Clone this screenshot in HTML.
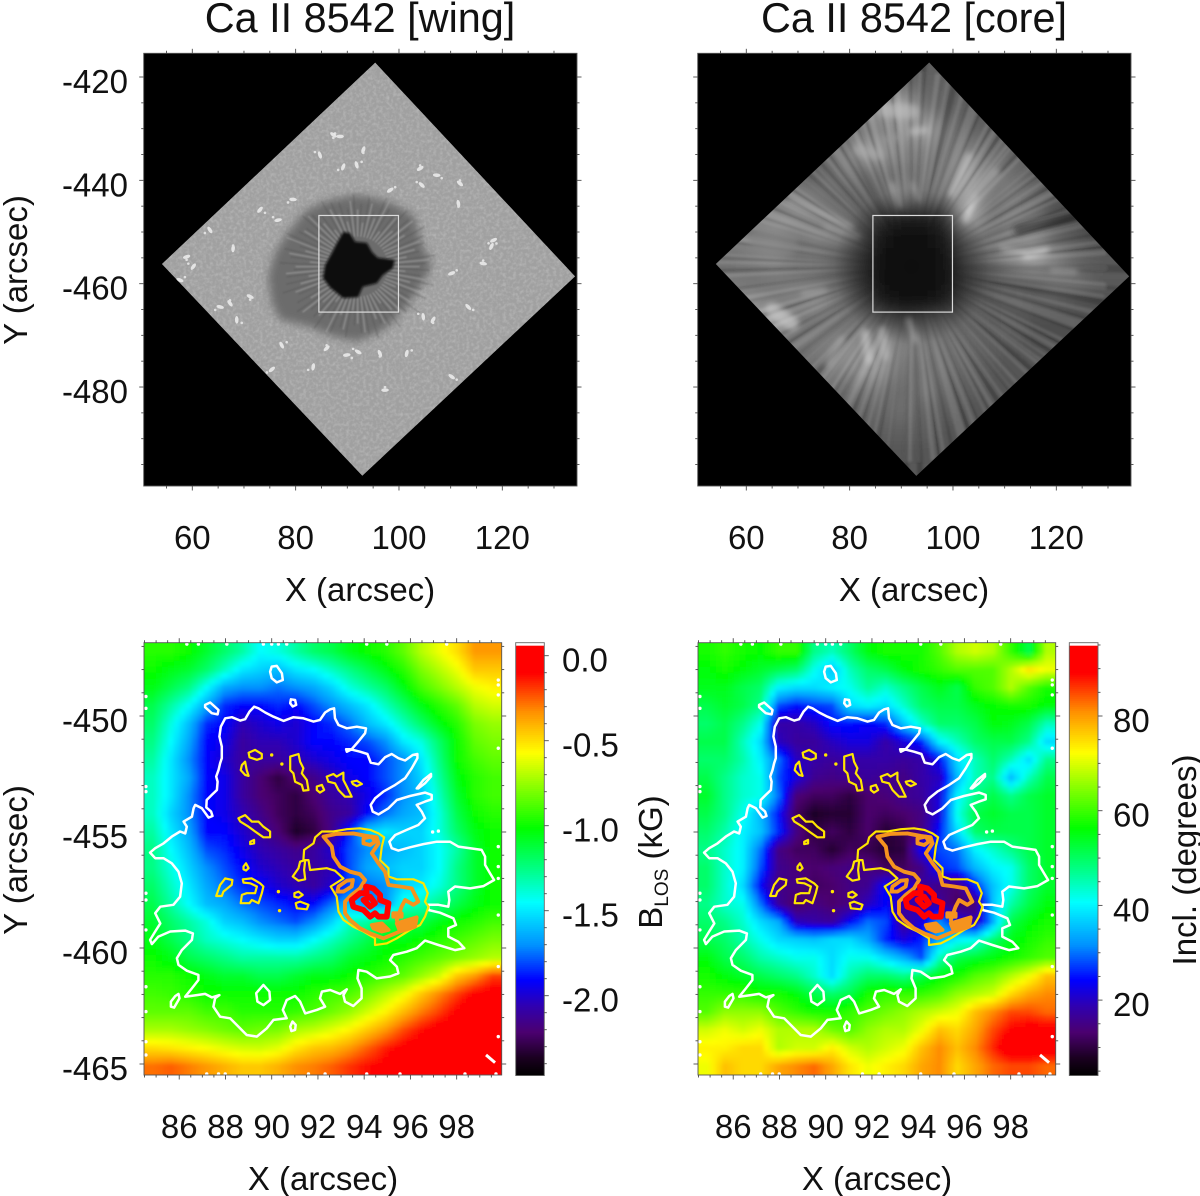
<!DOCTYPE html>
<html lang="en">
<head>
<meta charset="utf-8">
<title>Ca II 8542 sunspot maps</title>
<style>
html,body{margin:0;padding:0;background:#fff;}
svg{display:block;}
text{font-family:"Liberation Sans",sans-serif;fill:#111;}
.tick{font-size:33px;}
.axis{font-size:33px;}
.title{font-size:41.4px;}
</style>
</head>
<body>
<svg id="figure" width="1200" height="1196" viewBox="0 0 1200 1196" xmlns="http://www.w3.org/2000/svg">
<defs>
<filter id="blurHeat" filterUnits="userSpaceOnUse" x="100" y="600" width="1000" height="520"><feGaussianBlur stdDeviation="2.2"/></filter>
<filter id="blurCore" filterUnits="userSpaceOnUse" x="650" y="20" width="540" height="500"><feGaussianBlur stdDeviation="9"/></filter>
<filter id="blurRay" filterUnits="userSpaceOnUse" x="650" y="20" width="540" height="500"><feGaussianBlur stdDeviation="1.2"/></filter>
<filter id="blurStreak" filterUnits="userSpaceOnUse" x="650" y="20" width="540" height="500"><feGaussianBlur stdDeviation="3"/></filter>
<filter id="blurPen" filterUnits="userSpaceOnUse" x="100" y="20" width="540" height="500"><feGaussianBlur stdDeviation="4.5"/></filter>
<filter id="blurUmb" filterUnits="userSpaceOnUse" x="100" y="20" width="540" height="500"><feGaussianBlur stdDeviation="1.4"/></filter>
<filter id="blurFib" filterUnits="userSpaceOnUse" x="100" y="20" width="540" height="500"><feGaussianBlur stdDeviation="0.7"/></filter>
<filter id="grain" filterUnits="userSpaceOnUse" x="143" y="53" width="434" height="433">
<feTurbulence type="fractalNoise" baseFrequency="0.3" numOctaves="2" seed="4"/>
<feColorMatrix type="matrix" values="0 0 0 0 1  0 0 0 0 1  0 0 0 0 1  1.6 0 0 0 -0.62"/>
</filter>
<radialGradient id="coreDark" gradientUnits="userSpaceOnUse" cx="911.6" cy="266.6" r="78">
<stop offset="0" stop-color="#000" stop-opacity="0.35"/>
<stop offset="0.55" stop-color="#000" stop-opacity="0.3"/>
<stop offset="1" stop-color="#000" stop-opacity="0"/>
</radialGradient>
<radialGradient id="rayFade" gradientUnits="userSpaceOnUse" cx="911.6" cy="266.6" r="90">
<stop offset="0" stop-color="#000"/>
<stop offset="0.35" stop-color="#000"/>
<stop offset="1" stop-color="#fff"/>
</radialGradient>
<mask id="rayMask" maskUnits="userSpaceOnUse" x="650" y="20" width="540" height="500">
<rect x="650" y="20" width="540" height="500" fill="url(#rayFade)"/>
</mask>
</defs>
<g id="root"></g>
</svg>
<script>
// ---------- Axis tick labels ----------
var topXTicks = [60, 80, 100, 120];
var topYTicks = [-420, -440, -460, -480];
var botXTicks = [86, 88, 90, 92, 94, 96, 98];
var botYTicks = [-450, -455, -460, -465];
var blosTicks = [0.0, -0.5, -1.0, -1.5, -2.0];
var blosTickLabels = ["0.0", "-0.5", "-1.0", "-1.5", "-2.0"];
var inclTicks = [80, 60, 40, 20];

// ---------- B_LOS map (kG), rows top to bottom ----------
var blosRows = [
[-.95,-.95,-1.0,-1.1,-1.2,-1.3,-1.45,-1.4,-1.3,-1.2,-1.15,-1.05,-1.0,-.95,-.85,-.7,-.6,-.5,-.35,-.35],
[-1.0,-1.05,-1.1,-1.2,-1.35,-1.5,-1.55,-1.6,-1.5,-1.45,-1.35,-1.25,-1.15,-1.05,-.95,-.8,-.7,-.6,-.45,-.45],
[-1.05,-1.15,-1.25,-1.45,-1.65,-1.7,-1.7,-1.75,-1.7,-1.65,-1.55,-1.4,-1.3,-1.2,-1.05,-.9,-.8,-.7,-.6,-.55],
[-1.15,-1.3,-1.45,-1.65,-1.85,-1.9,-1.9,-1.85,-1.9,-1.8,-1.7,-1.6,-1.5,-1.35,-1.2,-1.05,-.95,-.85,-.7,-.65],
[-1.2,-1.4,-1.6,-1.85,-1.9,-2.05,-2.0,-1.95,-2.0,-1.9,-1.85,-1.75,-1.6,-1.5,-1.35,-1.2,-1.05,-.95,-.8,-.75],
[-1.25,-1.45,-1.65,-1.9,-1.95,-2.1,-2.05,-2.05,-2.0,-1.9,-1.9,-1.85,-1.8,-1.7,-1.5,-1.4,-1.2,-1.0,-.85,-.8],
[-1.3,-1.5,-1.7,-1.9,-2.0,-2.1,-2.1,-2.1,-2.05,-2.0,-1.95,-1.9,-1.9,-1.8,-1.7,-1.5,-1.25,-1.0,-.9,-.85],
[-1.35,-1.5,-1.65,-1.9,-1.95,-2.1,-2.2,-2.3,-2.2,-2.15,-2.05,-1.95,-1.9,-1.8,-1.7,-1.55,-1.3,-1.05,-.95,-.9],
[-1.35,-1.5,-1.7,-1.9,-1.95,-2.1,-2.2,-2.25,-2.3,-2.2,-2.1,-2.05,-1.95,-1.85,-1.7,-1.6,-1.35,-1.1,-.95,-.9],
[-1.35,-1.55,-1.7,-1.9,-1.95,-2.05,-2.15,-2.25,-2.3,-2.25,-2.15,-2.1,-1.9,-1.75,-1.65,-1.6,-1.4,-1.15,-1.0,-.95],
[-1.3,-1.5,-1.65,-1.9,-1.9,-2.0,-2.1,-2.2,-2.35,-2.3,-2.15,-1.85,-1.55,-1.5,-1.55,-1.55,-1.4,-1.2,-1.05,-1.0],
[-1.25,-1.45,-1.6,-1.8,-1.85,-1.95,-2.05,-2.1,-2.15,-2.1,-2.0,-1.8,-1.7,-1.65,-1.6,-1.55,-1.45,-1.3,-1.1,-1.0],
[-1.25,-1.4,-1.55,-1.7,-1.8,-1.9,-2.0,-2.05,-2.1,-2.1,-2.05,-1.8,-1.65,-1.6,-1.55,-1.55,-1.45,-1.25,-1.1,-1.0],
[-1.2,-1.35,-1.5,-1.65,-1.75,-1.85,-1.9,-2.0,-2.05,-2.1,-2.0,-1.8,-1.75,-1.7,-1.55,-1.5,-1.4,-1.25,-1.1,-1.0],
[-1.15,-1.3,-1.45,-1.6,-1.65,-1.75,-1.8,-1.85,-1.9,-1.9,-1.75,-1.6,-1.7,-1.7,-1.4,-1.35,-1.25,-1.15,-1.05,-1.0],
[-1.1,-1.2,-1.3,-1.4,-1.55,-1.6,-1.7,-1.75,-1.8,-1.7,-1.55,-1.35,-1.3,-1.15,-1.15,-1.15,-1.05,-1.0,-.95,-.9],
[-1.05,-1.15,-1.25,-1.35,-1.4,-1.45,-1.5,-1.55,-1.55,-1.45,-1.35,-1.25,-1.15,-1.05,-1.05,-1.0,-.95,-.9,-.85,-.8],
[-1.0,-1.05,-1.15,-1.2,-1.25,-1.3,-1.3,-1.3,-1.3,-1.25,-1.2,-1.1,-1.05,-1.0,-.95,-.9,-.85,-.8,-.75,-.7],
[-.95,-.95,-1.0,-1.05,-1.1,-1.1,-1.15,-1.15,-1.1,-1.05,-1.05,-1.0,-.95,-.9,-.85,-.75,-.65,-.45,-.35,-.2],
[-.9,-.92,-.95,-1.0,-1.0,-1.0,-1.0,-1.0,-1.0,-.95,-.9,-.88,-.8,-.7,-.6,-.45,-.32,-.2,-.08,-.05],
[-.85,-.85,-.85,-.9,-.9,-.95,-.95,-.95,-.92,-.88,-.82,-.75,-.65,-.55,-.42,-.3,-.2,-.08,-.03,0],
[-.72,-.72,-.75,-.78,-.82,-.85,-.82,-.8,-.72,-.68,-.62,-.55,-.45,-.35,-.22,-.12,-.05,0,0,0],
[-.5,-.52,-.55,-.58,-.62,-.65,-.66,-.62,-.52,-.45,-.42,-.35,-.25,-.15,-.08,-.03,0,0,0,0],
[-.28,-.25,-.3,-.35,-.4,-.45,-.45,-.4,-.33,-.3,-.25,-.18,-.12,-.08,-.03,0,0,0,0,0]
];

// ---------- Inclination map (degrees), rows top to bottom ----------
var inclRows = [
[58,60,58,57,60,60,48,45,50,56,58,58,58,62,68,70,68,60,52,68],
[56,58,56,54,52,50,42,36,45,50,52,56,58,60,62,62,62,68,75,72],
[55,55,52,50,40,38,38,40,42,47,44,48,52,55,52,60,62,68,62,58],
[52,54,52,48,28,25,27,28,38,40,38,44,50,52,52,55,57,58,58,56],
[50,52,48,42,18,18,20,25,25,24,26,36,44,50,50,52,56,55,52,45],
[52,52,45,38,20,17,17,20,22,22,18,22,26,40,45,50,52,52,48,38],
[50,50,46,40,30,20,18,17,18,18,18,17,18,24,38,45,50,45,38,48],
[52,48,44,42,28,22,16,15,16,17,16,15,18,20,35,45,48,35,45,52],
[54,48,44,42,30,14,12,12,10,13,14,16,17,22,40,48,52,48,52,54],
[52,48,42,35,25,12,8,9,9,13,12,13,15,22,42,52,54,52,52,54],
[50,46,40,36,26,15,10,12,10,13,9,11,15,25,38,50,52,52,52,54],
[48,44,40,30,15,12,12,9,12,11,9,10,24,28,30,40,44,48,52,54],
[50,44,40,28,16,14,13,14,15,15,12,12,15,26,28,35,40,42,50,54],
[50,44,38,24,15,15,12,13,15,16,25,22,18,15,14,26,36,42,50,54],
[48,44,42,30,17,12,15,13,15,20,24,18,18,17,12,14,36,46,52,56],
[50,48,44,38,34,20,18,17,24,30,28,16,22,32,24,18,34,52,56,58],
[52,50,46,42,38,37,36,38,38,34,26,22,26,35,40,42,50,55,58,60],
[56,52,50,46,44,42,42,38,42,42,38,34,28,45,52,54,56,58,60,62],
[58,56,54,52,50,48,44,38,46,50,50,48,52,56,58,62,64,68,72,78],
[60,60,60,58,58,56,52,50,52,58,60,60,60,62,66,68,70,76,80,82],
[62,66,66,66,62,60,58,58,60,62,64,66,68,70,72,78,82,86,86,84],
[70,72,70,72,68,68,68,64,62,66,68,68,72,78,76,80,86,90,92,92],
[74,74,76,76,68,70,70,74,70,68,70,72,78,82,78,82,88,94,94,94],
[72,78,76,76,80,82,84,80,75,72,74,76,80,82,76,80,84,86,86,84]
];

// ---------- Ca II core intensity (0-255), rows top to bottom ----------
var coreRows = [
[90,90,90,90,90,90,90,90,90,90,95,95,90,90,90,90,90,90,90,90],
[110,110,110,110,110,110,110,110,110,110,100,100,90,90,90,90,90,90,90,90],
[150,150,150,150,150,150,150,150,150,170,110,100,90,90,90,90,90,90,90,90],
[110,110,110,110,110,110,110,110,130,150,165,110,100,95,95,95,95,95,95,95],
[110,110,110,110,110,110,110,160,150,130,130,110,130,110,100,100,100,100,100,100],
[90,90,90,90,90,90,110,110,110,115,120,110,160,130,110,90,90,90,90,90],
[130,130,130,130,130,120,100,90,100,130,110,110,170,120,120,110,90,90,90,90],
[130,130,130,130,140,130,120,90,50,40,40,50,170,110,120,110,70,60,60,60],
[130,130,130,150,120,130,120,80,30,25,25,40,100,110,120,130,100,90,70,70],
[110,110,125,130,110,110,90,60,25,25,20,30,80,100,140,170,130,100,90,90],
[120,120,110,120,120,110,90,55,25,20,20,28,60,70,85,90,110,110,90,90],
[140,140,140,120,130,140,110,80,35,25,25,40,80,85,90,85,85,80,80,80],
[170,170,170,170,120,110,110,110,100,80,90,100,100,85,90,80,75,75,75,75],
[110,110,110,110,110,120,130,140,150,130,120,110,105,95,85,80,80,80,80,80],
[110,110,110,110,110,110,130,160,150,115,115,110,100,90,85,85,85,85,85,85],
[115,115,115,115,115,115,115,120,120,105,120,100,95,85,85,85,85,85,85,85],
[100,100,100,100,100,100,100,100,105,110,100,95,85,85,85,85,85,85,85,85],
[95,95,95,95,95,95,95,95,95,95,95,85,85,85,85,85,85,85,85,85],
[85,85,85,85,85,85,85,85,85,85,85,85,85,85,85,85,85,85,85,85],
[90,90,90,90,90,90,90,90,90,90,90,90,90,90,90,90,90,90,90,90]
];

// ---------- Core streaks (arcsec endpoints, gray level, width) ----------
var streakX1 = [88.2,92.1,104.3,103.0,108.2,118.2,114.0,123.7,68.8,68.2,75.3,70.8,83.7,86.9,92.7,75.9,86.9,92.1,81.7,89.5,63.0,123.7];
var streakY1 = [-440.6,-440.6,-443.2,-435.4,-438.6,-453.5,-454.1,-457.7,-467.7,-443.8,-449.0,-461.9,-474.8,-474.1,-470.9,-475.4,-426.4,-430.6,-434.1,-431.6,-451.6,-447.0];
var streakX2 = [89.8,93.4,102.4,99.8,103.7,114.0,109.5,119.2,65.0,80.5,81.7,75.3,83.0,86.3,91.4,78.5,92.1,94.6,85.6,86.9,67.5,112.7];
var streakY2 = [-445.1,-443.8,-447.7,-442.5,-443.8,-454.8,-453.2,-457.4,-465.1,-449.0,-450.9,-461.2,-469.6,-469.0,-467.0,-470.9,-426.7,-430.3,-435.1,-432.2,-452.2,-449.6];
var streakGray = [220,190,240,200,170,240,200,170,210,190,170,200,210,190,200,170,190,200,170,150,130,40];
var streakWidth = [3,3,6,8,10,4,4,5,14,4,4,3,8,8,6,8,14,7,10,8,25,10];

// ---------- Field of view and wing features (arcsec) ----------
var diamondX = [95.4, 134.1, 92.9, 54.1];
var diamondY = [-417.2, -458.6, -497.2, -456.2];
var boxX = [84.5, 99.9];
var boxY = [-446.8, -465.5];
var penumbraX = [91.8,94.4,98.9,103.1,104.1,106.3,105.4,101.5,97.0,91.8,86.6,82.8,77.0,75.4,74.7,76.0,78.3,82.1,86.6];
var penumbraY = [-442.8,-443.2,-444.5,-447.0,-451.6,-456.1,-458.6,-464.5,-469.0,-471.2,-470.0,-468.3,-467.0,-463.8,-458.6,-454.1,-450.3,-445.7,-443.8];
var umbraX = [89.2,90.5,91.5,93.8,94.8,95.9,99.2,98.8,96.9,95.7,93.0,92.1,89.2,86.7,85.3,85.7,87.0,88.0];
var umbraY = [-450.0,-450.2,-451.9,-452.1,-453.9,-455.0,-455.4,-457.0,-458.3,-459.9,-460.6,-462.6,-462.8,-460.8,-458.9,-456.4,-454.1,-452.1];
var fibrilLight = [62,48,70,55,78,44,66,52,74,58,46,68,60,50,72];
var fibrilDark = [72,64,78,68,76,62,80,70,66,78,72,66,80,74];
var brightX = [88.6,87.3,91.8,89.2,104.1,107.3,104.4,111.5,117.9,118.3,116.3,113.4,104.7,106.6,110.2,65.4,67.3,68.6,60.2,58.9,57.6,63.4,67.9,73.1,76.6,71.2,77.3,83.4,86.0,89.9,92.1,96.3,101.5,75.4,97.3,110.2,84.7,93.1,98.3,79.5,111.8];
var brightY = [-431.5,-431.2,-437.0,-437.4,-437.7,-439.0,-440.9,-444.5,-452.8,-451.6,-456.1,-464.5,-466.4,-467.0,-458.0,-464.5,-463.8,-467.0,-456.7,-454.8,-459.3,-449.6,-453.2,-445.7,-447.7,-462.5,-471.9,-476.1,-472.5,-473.8,-473.2,-473.5,-473.5,-476.6,-480.6,-478.0,-435.1,-434.1,-441.9,-443.7,-440.6];

// ---------- Contours: flat X,Y pairs in arcsec ----------
var whiteContours = [
[84.74,-455.89,84.96,-455.70,85.32,-455.49,85.68,-455.20,86.04,-454.98,86.26,-455.06,86.33,-454.77,86.19,-454.55,86.55,-454.34,86.62,-453.98,86.69,-453.83,86.98,-453.98,87.27,-454.38,87.44,-454.31,87.38,-454.12,87.17,-453.94,87.19,-453.62,87.41,-453.40,87.63,-453.19,87.66,-452.83,87.60,-452.61,87.70,-452.33,87.77,-452.04,87.84,-451.82,87.84,-451.32,87.74,-450.89,87.80,-450.46,87.99,-450.10,88.28,-450.05,88.64,-450.20,88.85,-450.14,89.04,-449.81,89.24,-449.60,89.43,-449.67,89.72,-449.85,90.08,-450.03,90.51,-450.21,90.94,-450.05,91.37,-450.10,91.81,-450.24,92.09,-450.17,92.31,-449.85,92.53,-449.71,92.70,-449.67,92.74,-450.10,92.89,-450.39,93.25,-450.53,93.68,-450.46,94.08,-450.53,94.04,-450.74,93.75,-451.10,93.46,-451.43,93.25,-451.54,93.22,-451.43,93.39,-451.43,93.82,-451.54,94.14,-451.64,94.28,-452.01,94.62,-452.08,94.90,-451.78,95.19,-451.64,95.48,-451.82,95.77,-451.92,96.10,-451.68,96.30,-451.64,96.30,-451.82,96.06,-452.25,95.77,-452.68,95.34,-452.97,94.83,-453.26,94.47,-453.55,94.28,-453.83,94.37,-454.12,94.62,-454.24,95.05,-453.98,95.41,-453.62,95.98,-453.45,96.63,-453.30,96.92,-453.40,96.92,-453.59,96.63,-453.69,96.27,-453.83,96.49,-454.12,96.63,-454.41,96.34,-454.70,95.84,-454.91,95.34,-455.13,95.09,-455.42,95.19,-455.70,95.48,-455.80,95.98,-455.66,96.56,-455.52,97.14,-455.42,97.71,-455.42,98.07,-455.63,98.58,-455.70,99.08,-455.77,99.23,-456.06,99.23,-456.42,99.44,-456.78,99.62,-457.07,99.16,-457.33,98.58,-457.43,97.93,-457.35,97.64,-457.57,97.68,-457.93,97.64,-458.22,97.21,-458.14,96.78,-458.14,96.78,-458.36,97.28,-458.48,97.86,-458.72,97.97,-459.01,97.64,-459.15,97.64,-459.51,98.07,-459.73,98.33,-460.01,97.93,-460.09,97.21,-459.87,96.63,-459.68,96.27,-460.01,95.84,-460.16,95.26,-460.30,95.12,-460.52,95.41,-460.80,95.48,-461.09,95.12,-461.23,94.54,-461.31,94.11,-461.02,93.75,-460.95,93.71,-461.31,93.89,-461.74,93.89,-462.17,93.53,-462.50,93.17,-462.31,93.10,-462.03,93.25,-461.78,92.96,-461.98,92.53,-461.81,92.17,-461.88,92.09,-462.17,92.31,-462.53,91.95,-462.67,91.45,-462.82,91.23,-462.31,91.01,-462.07,90.65,-462.24,90.48,-462.67,90.65,-463.03,90.08,-463.10,89.79,-463.46,89.36,-463.82,88.92,-463.75,88.56,-463.39,88.20,-463.03,87.77,-462.96,87.48,-462.53,87.55,-462.17,87.74,-462.03,87.41,-462.13,87.12,-461.98,86.76,-462.03,86.26,-462.10,86.55,-461.74,86.83,-461.38,86.83,-461.16,86.33,-460.98,85.97,-460.73,85.90,-460.44,86.11,-460.09,86.55,-459.65,86.59,-459.37,86.26,-459.25,85.61,-459.29,85.10,-459.51,84.82,-459.83,84.74,-459.65,84.96,-459.29,85.18,-458.94,84.96,-458.50,85.18,-458.22,85.75,-458.14,86.04,-457.79,86.11,-457.21,85.97,-456.71,85.68,-456.35,85.32,-456.13,84.96,-456.13],
[89.93,-448.09,90.00,-447.87,90.22,-447.84,90.44,-448.16,90.48,-448.45,90.22,-448.55,90.00,-448.37],
[90.83,-449.28,91.01,-449.31,91.06,-449.52,90.91,-449.59,90.80,-449.45],
[87.12,-449.52,87.34,-449.42,87.70,-449.74,87.66,-449.93,87.41,-449.88,87.12,-449.62],
[89.64,-461.59,89.90,-461.88,89.93,-462.24,89.64,-462.46,89.38,-462.31,89.33,-461.95],
[85.97,-461.98,86.01,-462.17,85.78,-462.57,85.64,-462.53,85.64,-462.31,85.83,-462.07],
[90.90,-463.17,91.04,-463.32,91.01,-463.53,90.85,-463.58,90.80,-463.39],
[96.27,-453.12,96.56,-452.76,96.89,-452.50,96.89,-452.61,96.63,-452.90,96.34,-453.12]
];
var yellowContours = [
[89.0,-451.58,89.28,-451.46,89.57,-451.64,89.57,-451.82,89.36,-451.89,89.04,-451.78],
[88.71,-452.11,88.85,-451.97,88.92,-452.33,89.0,-452.58,88.85,-452.54,88.66,-452.33],
[90.80,-451.75,91.16,-451.64,91.23,-451.97,91.37,-452.25,91.30,-452.47,91.52,-452.76,91.59,-453.19,91.37,-453.22,91.30,-452.97,91.01,-452.83,90.94,-452.47,90.80,-452.33],
[92.38,-452.61,92.67,-452.50,92.81,-452.61,93.10,-452.44,93.10,-452.76,93.25,-453.04,93.46,-453.48,93.17,-453.48,92.89,-453.19,92.74,-452.9,92.45,-452.83],
[91.95,-453.04,92.17,-452.97,92.27,-453.19,92.09,-453.30,91.95,-453.19],
[93.46,-452.83,93.68,-452.79,93.90,-452.93,93.68,-453.02,93.51,-452.93],
[88.56,-454.41,88.85,-454.27,89.14,-454.55,89.43,-454.55,89.64,-454.77,89.93,-454.98,89.93,-455.23,89.64,-455.23,89.28,-454.98,89.0,-454.77,88.64,-454.55],
[89.07,-455.42,89.24,-455.34,89.24,-455.49,89.07,-455.52],
[88.78,-456.49,88.89,-456.35,89.0,-456.56,88.89,-456.66,88.78,-456.61],
[87.6,-457.76,87.77,-457.28,87.99,-457.0,88.30,-457.07,88.27,-457.28,87.91,-457.57,87.84,-457.76],
[88.75,-457.04,89.14,-457.0,89.50,-457.21,89.64,-457.35,89.57,-457.64,89.43,-458.07,89.14,-457.93,89.04,-458.07,88.66,-458.07,88.71,-457.71,88.92,-457.64,89.28,-457.64,89.36,-457.35,89.07,-457.21,88.78,-457.18],
[90.98,-457.64,91.16,-457.57,91.34,-457.71,91.16,-457.83,90.98,-457.79],
[91.04,-458.07,91.23,-458.0,91.59,-458.14,91.52,-458.33,91.09,-458.29],
[91.23,-456.28,91.45,-456.21,91.40,-456.64,91.45,-457.04,91.16,-457.10,90.91,-456.92,91.16,-456.56],
[92.17,-454.98,92.67,-454.98,93.25,-454.88,93.82,-454.84,94.26,-454.91,94.62,-455.06,94.86,-455.23,94.76,-455.63,94.69,-456.21,95.05,-456.56,95.05,-456.92,95.41,-457.04,96.13,-457.04,96.56,-457.21,96.75,-457.64,96.63,-458.0,96.78,-458.22,96.63,-458.65,96.42,-459.01,95.98,-459.22,95.41,-459.58,94.98,-459.80,94.47,-459.87,94.47,-459.58,93.97,-459.29,93.53,-459.08,93.10,-458.79,92.89,-458.43,92.81,-457.79,92.55,-457.35,92.89,-457.14,93.10,-457.0,92.74,-456.67,92.38,-456.56,91.66,-456.64,91.59,-456.21,91.37,-456.21,91.40,-455.77,91.81,-455.49,91.88,-455.23]
];
var orangeContours = [
[92.24,-455.20,92.81,-455.08,93.53,-455.06,94.11,-455.17,94.54,-455.23,94.62,-455.49,94.33,-455.92,94.62,-456.35,94.90,-456.71,95.05,-457.28,95.55,-457.35,96.06,-457.43,96.34,-458.0,96.13,-458.14,95.77,-457.93,95.62,-458.22,95.41,-458.79,95.55,-459.29,94.83,-459.58,94.26,-459.37,93.82,-459.15,93.39,-458.79,93.17,-458.50,93.17,-458.0,93.46,-457.71,93.82,-457.43,94.04,-457.07,93.82,-456.82,93.39,-456.71,92.96,-456.49,92.67,-456.06,92.60,-455.63],
[92.89,-457.35,93.25,-457.10,93.51,-457.07,93.46,-457.35,93.10,-457.57,92.84,-457.57],
[93.97,-455.27,94.33,-455.20,94.47,-455.42,94.26,-455.56,93.97,-455.49],
[94.33,-459.01,94.76,-458.94,95.05,-459.22,94.76,-459.29,94.40,-459.15],
[95.41,-458.94,96.27,-458.68,96.20,-459.08,95.55,-459.29],
[95.26,-458.50,95.62,-458.51,95.62,-458.65,95.26,-458.65]
];
var redContours = [
[93.46,-457.93,93.82,-457.64,94.11,-457.64,94.08,-457.35,94.40,-457.43,94.69,-457.71,94.69,-457.93,95.05,-458.07,94.98,-458.65,94.62,-458.65,94.47,-458.50,94.26,-458.65,93.97,-458.36,93.53,-458.22],
[93.97,-457.93,94.26,-457.79,94.47,-458.07,94.26,-458.22]
];
var yellowDotsX = [90.0,90.44,90.29,90.34];
var yellowDotsY = [-451.68,-452.07,-457.57,-458.39];
var whiteDotsX = [96.96,97.21,86.33,86.83,88.06,89.64,90.0,90.29,90.65,94.11,94.98,97.57,87.19,87.70,87.99,91.59,92.31,94.11,95.55,98.36,99.70,84.56,84.56,84.56,84.56,84.56,84.56,84.56,84.56,84.56,84.56,84.56,99.80,99.80,99.80,99.80,99.80,99.80,99.80,99.80,99.80,99.80];
var whiteDotsY = [-455.0,-454.96,-446.9,-446.9,-446.9,-446.9,-446.9,-446.9,-446.9,-446.9,-446.9,-446.9,-465.43,-465.43,-465.43,-465.43,-465.43,-465.43,-465.43,-465.43,-465.43,-449.16,-449.67,-453.04,-453.26,-457.64,-457.93,-459.22,-461.67,-462.74,-464.04,-464.61,-448.45,-448.66,-449.09,-451.39,-455.63,-456.49,-457.0,-458.58,-460.80,-463.82];
var whiteStreakX = [99.27,99.66];
var whiteStreakY = [-464.61,-464.94];

// ---------- Colour table: position 0-1, then r, g, b ----------
var cmapPos = [0,.04,.10,.16,.22,.30,.40,.47,.57,.66,.745,.80,.84,.90,.93,1];
var cmapR = [0,26,75,48,0,0,0,0,0,128,255,255,255,255,255,255];
var cmapG = [0,0,0,0,0,144,255,255,255,255,255,192,144,48,0,0];
var cmapB = [0,32,112,176,255,255,255,144,0,0,0,0,0,0,0,0];

// ---------- Core ray patterns (dash, gap lengths) ----------
var rayLightDash = [2,7,4,3,1.5,8,3,5,6,9,2,4,3,6,1.5,3,5,8,2,7,3,4,1.5,6];
var rayDarkDash = [4,10,2,7,5,12,2,8,3,11,4,6];

var NS = "http://www.w3.org/2000/svg";
var root = document.getElementById("root");

function el(tag, attrs, parent) {
  var e = document.createElementNS(NS, tag);
  for (var k in attrs) e.setAttribute(k, attrs[k]);
  (parent || root).appendChild(e);
  return e;
}
function group(name, parent) {
  var g = el("g", {}, parent);
  
  
  return g;
}
function label(str, x, y, cls, anchor, name, rot) {
  var t = el("text", {x: x, y: y, "class": cls, "text-anchor": anchor});
  if (rot) t.setAttribute("transform", "rotate(-90 " + x + " " + y + ")");
  t.textContent = str;
  
  
  return t;
}
function colorFor(f) {
  f = Math.max(0, Math.min(1, f));
  var i = 0;
  while (i < cmapPos.length - 2 && f > cmapPos[i + 1]) i++;
  var t = (f - cmapPos[i]) / (cmapPos[i + 1] - cmapPos[i]);
  var c = function (a) { return Math.round(a[i] + (a[i + 1] - a[i]) * t); };
  return "rgb(" + c(cmapR) + "," + c(cmapG) + "," + c(cmapB) + ")";
}
function sample(rows, gx, gy) {
  var ny = rows.length, nx = rows[0].length;
  gx = Math.max(0, Math.min(nx - 1, gx));
  gy = Math.max(0, Math.min(ny - 1, gy));
  var i = Math.min(nx - 2, Math.floor(gx)), j = Math.min(ny - 2, Math.floor(gy));
  var u = gx - i, v = gy - j;
  return rows[j][i] * (1 - u) * (1 - v) + rows[j][i + 1] * u * (1 - v) +
         rows[j + 1][i] * (1 - u) * v + rows[j + 1][i + 1] * u * v;
}

// Axis functions
function topX(v, off) { return 192.3 + (v - 60) * 5.167 + off; }
function topY(v) { return 77 + (-420 - v) * 5.167; }
function botX(v, off) { return 271.7 + (v - 90) * 23.12 + off; }
function botY(v) { return 716 + (-450 - v) * 23.2; }
function blosY(v) { return 655.7 - v * 170; }
function inclY(v) { return 716 + (80 - v) * 4.735; }

function poly(xs, ys, fx, fy, off) {
  var s = [];
  for (var i = 0; i < xs.length; i++) s.push(fx(xs[i], off).toFixed(1) + "," + fy(ys[i]).toFixed(1));
  return s.join(" ");
}
function polyFlat(a, off) {
  var s = [];
  for (var i = 0; i < a.length; i += 2) s.push(botX(a[i], off).toFixed(1) + "," + botY(a[i + 1]).toFixed(1));
  return s.join(" ");
}

function frameTicks(g, x0, x1, y0, y1, xf, yf, off, xMaj, yMaj, xStep, yStep, xRange, yRange) {
  var v, p, c = "#4a4a4a";
  for (v = xRange[0]; v <= xRange[1] + 1e-6; v += xStep) {
    p = xf(v, off);
    if (p < x0 - 0.5 || p > x1 + 0.5) continue;
    var lx = xMaj.indexOf(Math.round(v * 100) / 100) >= 0 ? 4.5 : 2.5;
    el("line", {x1: p, x2: p, y1: y0, y2: y0 - lx, stroke: c, "stroke-width": 0.9}, g);
    el("line", {x1: p, x2: p, y1: y1, y2: y1 + lx, stroke: c, "stroke-width": 0.9}, g);
  }
  for (v = yRange[0]; v <= yRange[1] + 1e-6; v += yStep) {
    p = yf(v);
    if (p < y0 - 0.5 || p > y1 + 0.5) continue;
    var ly = yMaj.indexOf(Math.round(v * 100) / 100) >= 0 ? 4.5 : 2.5;
    el("line", {x1: x0, x2: x0 - ly, y1: p, y2: p, stroke: c, "stroke-width": 0.9}, g);
    el("line", {x1: x1, x2: x1 + ly, y1: p, y2: p, stroke: c, "stroke-width": 0.9}, g);
  }
}

function drawRows(parent, rows, x0, x1, y0, y1, sub, colorOf, pad, cellName) {
  var W = x1 - x0, H = y1 - y0;
  var nx = rows[0].length * sub, ny = rows.length * sub;
  var dx = W / nx, dy = H / ny;
  var padN = Math.ceil(pad / dx);
  for (var j = -padN; j < ny + padN; j++) {
    for (var i = -padN; i < nx + padN; i++) {
      var val = sample(rows, (i + 0.5) / sub - 0.5, (j + 0.5) / sub - 0.5);
      var r = document.createElementNS(NS, "rect");
      r.setAttribute("x", (x0 + i * dx).toFixed(2));
      r.setAttribute("y", (y0 + j * dy).toFixed(2));
      r.setAttribute("width", (dx + 0.6).toFixed(2));
      r.setAttribute("height", (dy + 0.6).toFixed(2));
      r.setAttribute("fill", colorOf(val));
      
      
      parent.appendChild(r);
    }
  }
}

// ---------- Top panels ----------
function topPanel(name, off) {
  var g = group(name);
  var x0 = 143.7 + off, x1 = 577 + off, y0 = 53.3, y1 = 486;
  el("rect", {x: x0, y: y0, width: x1 - x0, height: y1 - y0, fill: "#000"}, g);
  var clipId = "clip" + off;
  var cp = el("clipPath", {id: clipId}, g);
  el("polygon", {points: poly(diamondX, diamondY, topX, topY, off)}, cp);
  var content = group(name + "-image", g);
  content.setAttribute("clip-path", "url(#" + clipId + ")");
  return {g: g, content: content, x0: x0, x1: x1, y0: y0, y1: y1, off: off};
}
function topFinish(p) {
  var box = el("rect", {x: topX(boxX[0], p.off), y: topY(boxY[0]), width: topX(boxX[1], p.off) - topX(boxX[0], p.off), height: topY(boxY[1]) - topY(boxY[0]), fill: "none", stroke: "#dcdcdc", "stroke-width": 1.2}, p.g);
  
  
  el("rect", {x: p.x0, y: p.y0, width: p.x1 - p.x0, height: p.y1 - p.y0, fill: "none", stroke: "#555", "stroke-width": 0.9}, p.g);
  var t = group("axis-ticks", p.g);
  frameTicks(t, p.x0, p.x1, p.y0, p.y1, topX, topY, p.off, topXTicks, topYTicks, 5, 5, [50, 140], [-500, -415]);
}

var wing = topPanel("wing-panel", 0);
var wc = wing.content;
el("polygon", {points: poly(diamondX, diamondY, topX, topY, 0), fill: "#a0a0a0"}, wc);
el("rect", {x: 143, y: 53, width: 434, height: 433, filter: "url(#grain)", opacity: 0.28}, wc);
el("polygon", {points: poly(penumbraX, penumbraY, topX, topY, 0), fill: "#6c6c6c", filter: "url(#blurPen)"}, wc);
var fib = group("penumbral-fibrils", wc);
fib.setAttribute("filter", "url(#blurFib)");
var fibCx = topX(92, 0), fibCy = topY(-456.7);
for (var fi = 0; fi < 120; fi++) {
  var ang = fi * 3 * Math.PI / 180, light = fi % 2 === 0;
  var fr = light ? fibrilLight[fi / 2 % fibrilLight.length] : fibrilDark[(fi - 1) / 2 % fibrilDark.length];
  var fl = el("line", {x1: fibCx + 30 * Math.cos(ang), y1: fibCy + 30 * Math.sin(ang), x2: fibCx + fr * Math.cos(ang), y2: fibCy + fr * Math.sin(ang) * 0.92, stroke: light ? "#b4b4b4" : "#4a4a4a", "stroke-width": 1.3, opacity: light ? 0.5 : 0.35}, fib);
  
}
el("polygon", {points: poly(umbraX, umbraY, topX, topY, 0), fill: "#101010", filter: "url(#blurUmb)"}, wc);
var bp = group("bright-points", wc);
for (var bi = 0; bi < brightX.length; bi++) {
  var bpx = topX(brightX[bi], 0), bpy = topY(brightY[bi]);
  var bc = el("ellipse", {cx: bpx, cy: bpy, rx: 3.8, ry: 1.8, fill: "#efefef", opacity: 0.85, transform: "rotate(" + (bi * 37 % 180) + " " + bpx + " " + bpy + ")"}, bp);
  
  var bd = el("circle", {cx: bpx + (bi % 3 - 1) * 5, cy: bpy + (bi % 2 ? 3 : -3), r: 1.3, fill: "#e0e0e0"}, bp);
  
}
topFinish(wing);

var core = topPanel("core-panel", 554);
var cc = core.content;
var coreGrid = group("core-intensity-map", cc);
coreGrid.setAttribute("filter", "url(#blurCore)");
drawRows(coreGrid, coreRows, core.x0, core.x1, core.y0, core.y1, 1, function (v) {
  var q = Math.round(v); return "rgb(" + q + "," + q + "," + q + ")";
}, 40, "core-cell");
var cxCore = topX(92, 554), cyCore = topY(-456.7);
var rayMaskGroup = group("core-rays-fade", cc);
rayMaskGroup.setAttribute("mask", "url(#rayMask)");
var rayGroup = group("core-rays", rayMaskGroup);
rayGroup.setAttribute("filter", "url(#blurRay)");
el("circle", {cx: cxCore, cy: cyCore, r: 110, fill: "none", stroke: "#fff", "stroke-width": 170, "stroke-dasharray": rayLightDash.join(" "), opacity: 0.13}, rayGroup);
el("circle", {cx: cxCore, cy: cyCore, r: 140, fill: "none", stroke: "#000", "stroke-width": 250, "stroke-dasharray": rayDarkDash.join(" "), opacity: 0.2}, rayGroup);
var streaks = group("core-streaks", cc);
streaks.setAttribute("filter", "url(#blurStreak)");
for (var si = 0; si < streakX1.length; si++) {
  var sq = streakGray[si];
  var sl = el("line", {x1: topX(streakX1[si], 554), y1: topY(streakY1[si]), x2: topX(streakX2[si], 554), y2: topY(streakY2[si]), stroke: "rgb(" + sq + "," + sq + "," + sq + ")", "stroke-width": streakWidth[si], "stroke-linecap": "round", opacity: 0.6}, streaks);
  
}
el("circle", {cx: cxCore, cy: cyCore, r: 78, fill: "url(#coreDark)"}, cc);
topFinish(core);

// ---------- Bottom panels ----------
function botPanel(name, off, rows, vmin, vmax, cellName) {
  var g = group(name);
  var x0 = 144 + off, x1 = 501.7 + off, y0 = 642.7, y1 = 1075;
  var cpId = "clipB" + off;
  var cp = el("clipPath", {id: cpId}, g);
  el("rect", {x: x0, y: y0, width: x1 - x0, height: y1 - y0}, cp);
  var outer = group(name + "-map", g);
  outer.setAttribute("clip-path", "url(#" + cpId + ")");
  var cells = group(name + "-cells", outer);
  cells.setAttribute("filter", "url(#blurHeat)");
  drawRows(cells, rows, x0, x1, y0, y1, 3, function (v) {
    return colorFor((v - vmin) / (vmax - vmin));
  }, 9, cellName);
  var i, c;
  var specks = group("edge-specks", outer);
  for (i = 0; i < whiteDotsX.length; i++) {
    c = el("circle", {cx: botX(whiteDotsX[i], off), cy: botY(whiteDotsY[i]), r: 1.7, fill: "#fff"}, specks);
    
  }
  el("line", {x1: botX(whiteStreakX[0], off), y1: botY(whiteStreakY[0]), x2: botX(whiteStreakX[1], off), y2: botY(whiteStreakY[1]), stroke: "#fff", "stroke-width": 3}, specks);

  function contourSet(list, color, width, setName) {
    var cg = group(setName, outer);
    for (var k = 0; k < list.length; k++) {
      var pg = el("polygon", {points: polyFlat(list[k], off), fill: "none", stroke: color, "stroke-width": width, "stroke-linejoin": "round"}, cg);
      
      
    }
    return cg;
  }
  contourSet(whiteContours, "#fff", 2.5, "white-contour");
  contourSet(yellowContours, "#ffe600", 2.2, "yellow-contour");
  for (i = 0; i < yellowDotsX.length; i++) {
    c = el("circle", {cx: botX(yellowDotsX[i], off), cy: botY(yellowDotsY[i]), r: 1.7, fill: "#ffe600"}, outer);
    
  }
  var og = contourSet(orangeContours, "#f5931e", 3.9, "orange-contour");
  var ogk = og.children;
  for (i = 3; i < ogk.length; i++) ogk[i].setAttribute("fill", "#f5931e");
  contourSet(redContours, "#ff0000", 5.8, "red-contour");

  el("rect", {x: x0, y: y0, width: x1 - x0, height: y1 - y0, fill: "none", stroke: "#555", "stroke-width": 0.9}, g);
  var t = group("axis-ticks", g);
  frameTicks(t, x0, x1, y0, y1, botX, botY, off, botXTicks, botYTicks, 0.5, 1, [84, 100], [-466, -446]);
}
botPanel("blos-panel", 0, blosRows, -2.466, 0.076, "blos-cell");
botPanel("inclination-panel", 554, inclRows, 4, 96.5, "inclination-cell");

// ---------- Colour bars ----------
function colorbar(name, x0, x1, y0, y1, yOf, vmin, vmax, step, majors, labelX, labels) {
  var g = group(name);
  var rows = 216, dy = (y1 - y0) / rows;
  for (var i = 0; i < rows; i++) {
    var f = 1 - (i + 0.5) / rows;
    var r = el("rect", {x: x0, y: (y0 + i * dy).toFixed(2), width: x1 - x0, height: (dy + 0.5).toFixed(2), fill: colorFor(f)}, g);
    
  }
  el("rect", {x: x0, y: y0, width: x1 - x0, height: 3, fill: "#fff"}, g);
  el("rect", {x: x0, y: y0, width: x1 - x0, height: y1 - y0, fill: "none", stroke: "#666", "stroke-width": 0.9}, g);
  for (var v = vmin; v <= vmax + 1e-6; v += step) {
    var p = yOf(v);
    if (p < y0 || p > y1) continue;
    var isMaj = majors.indexOf(Math.round(v * 100) / 100) >= 0;
    var tk = el("line", {x1: x1, x2: x1 + (isMaj ? 4.5 : 2.5), y1: p, y2: p, stroke: "#4a4a4a", "stroke-width": 0.9}, g);
    
  }
  for (var k = 0; k < majors.length; k++) {
    label(labels[k], labelX, yOf(majors[k]) + 16, "tick", "start", "colorbar-tick-label");
  }
}
colorbar("blos-colorbar", 515.7, 544.3, 642.7, 1075.5, blosY, -2.4, 0, 0.1, blosTicks, 562, blosTickLabels);
colorbar("inclination-colorbar", 1069.3, 1098, 642.7, 1075.5, inclY, 5, 95, 5, inclTicks, 1113, inclTicks.map(String));

// ---------- Labels ----------
label("Ca II 8542 [wing]", 360, 32, "title", "middle", "wing-title");
label("Ca II 8542 [core]", 914, 32, "title", "middle", "core-title");
label("X (arcsec)", 360, 601, "axis", "middle", "wing-x-axis-title");
label("X (arcsec)", 914, 601, "axis", "middle", "core-x-axis-title");
label("X (arcsec)", 323, 1190, "axis", "middle", "blos-x-axis-title");
label("X (arcsec)", 877, 1190, "axis", "middle", "inclination-x-axis-title");
label("Y (arcsec)", 27, 270, "axis", "middle", "top-y-axis-title", true);
label("Y (arcsec)", 27, 860, "axis", "middle", "bottom-y-axis-title", true);
label("Incl. (degrees)", 1196, 860, "axis", "middle", "inclination-colorbar-title", true);

topXTicks.forEach(function (v) {
  label(String(v), topX(v, 0), 549, "tick", "middle", "wing-x-tick-label");
  label(String(v), topX(v, 554), 549, "tick", "middle", "core-x-tick-label");
});
topYTicks.forEach(function (v) {
  label(String(v), 128, topY(v) + 16, "tick", "end", "wing-y-tick-label");
});
botXTicks.forEach(function (v) {
  label(String(v), botX(v, 0), 1138, "tick", "middle", "blos-x-tick-label");
  label(String(v), botX(v, 554), 1138, "tick", "middle", "inclination-x-tick-label");
});
botYTicks.forEach(function (v) {
  label(String(v), 128, botY(v) + 16, "tick", "end", "blos-y-tick-label");
});

var bl = el("text", {x: 0, y: 0, "class": "axis", "text-anchor": "middle", transform: "translate(662 862) rotate(-90)"});


var s1 = el("tspan", {}, bl); s1.textContent = "B";
var s2 = el("tspan", {dy: 6, "font-size": 19}, bl); s2.textContent = "LOS";
var s3 = el("tspan", {dy: -6}, bl); s3.textContent = " (kG)";
</script>
</body>
</html>
